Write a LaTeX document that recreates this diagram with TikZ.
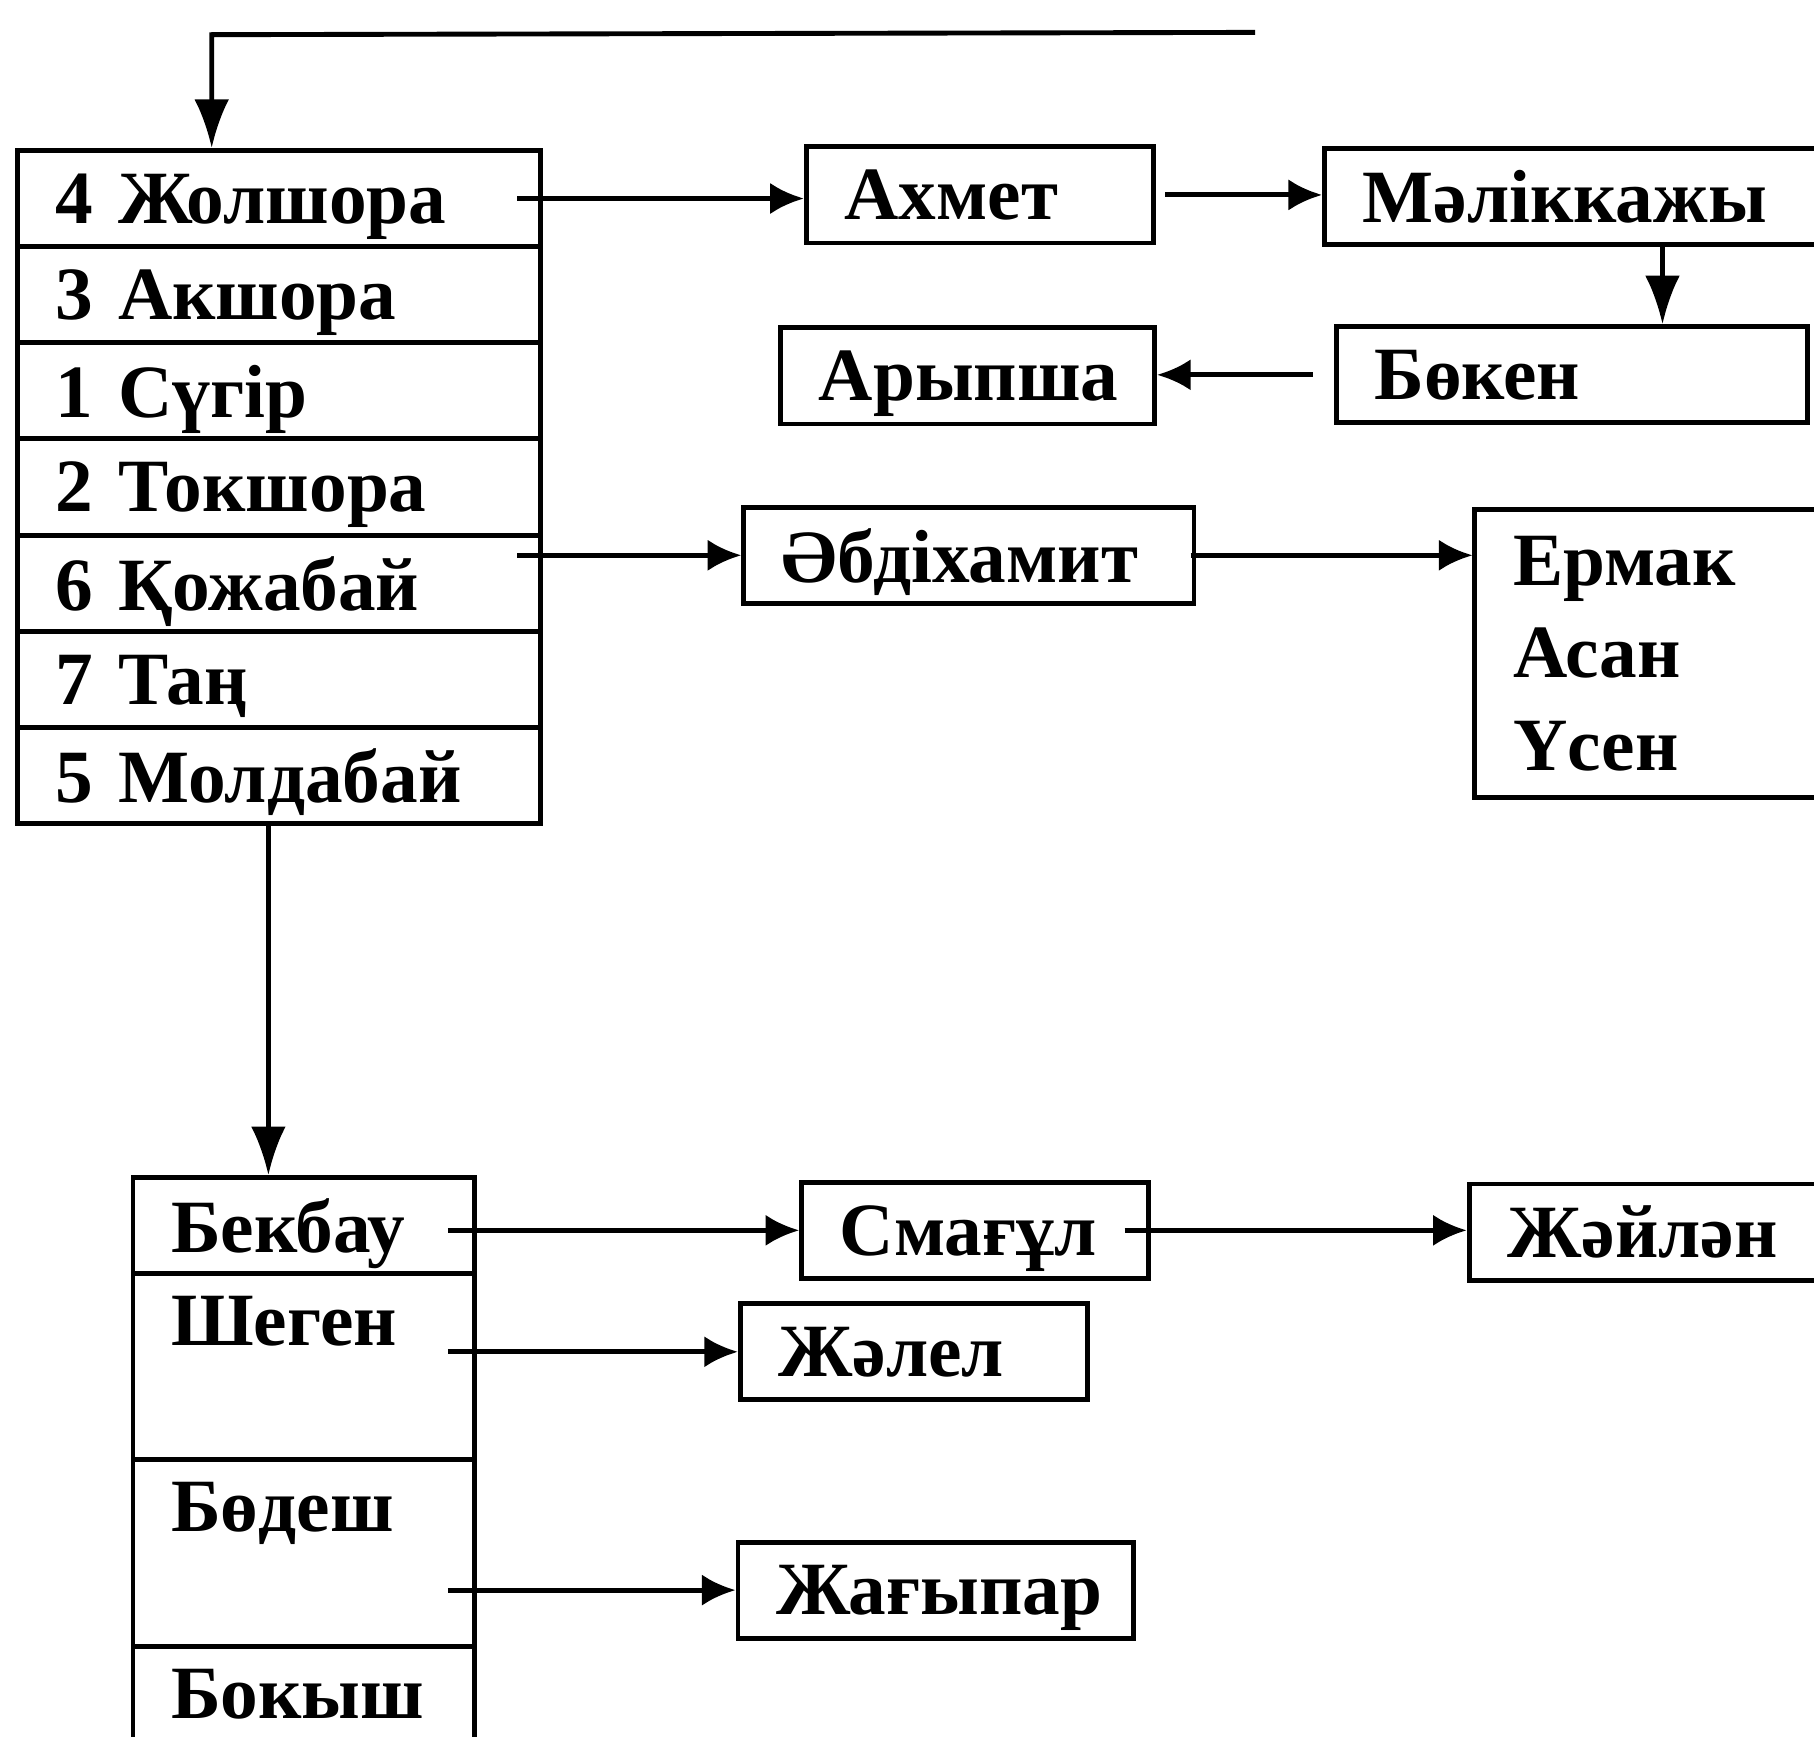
\documentclass[tikz,border=0pt]{standalone}
\usepackage{fontspec}
\setmainfont{Liberation Serif}
\usetikzlibrary{arrows.meta}

\begin{document}
\begin{tikzpicture}[x=0.01cm,y=-0.01cm,
    namebox/.style={draw,line width=1.2pt,inner xsep=0.33cm,inner ysep=0pt,
      minimum height=0.83cm,align=left,
      font=\fontsize{18.5}{22.8}\selectfont\bfseries},
    onebox/.style={namebox,text depth=0pt},
    link/.style={line width=1.2pt,-{Latex[length=0.29cm,width=0.27cm]}},
    droplink/.style={line width=1.2pt,-{Latex[length=0.42cm,width=0.3cm]}}]
  \useasboundingbox (0,0) rectangle (1568,1501);
  \clip (0,0) rectangle (1568,1501);

  % left column
  \node[onebox,text width=3.86cm] (r1) at (241,171.6) {4 Жолшора};
  \node[onebox,text width=3.86cm] (r2) at (241,254.7) {3 Акшора};
  \node[onebox,text width=3.86cm] (r3) at (241,337.9) {1 Сүгір};
  \node[onebox,text width=3.86cm] (r4) at (241,421.0) {2 Токшора};
  \node[onebox,text width=3.86cm] (r5) at (241,504.2) {6 Қожабай};
  \node[onebox,text width=3.86cm] (r6) at (241,587.3) {7 Таң};
  \node[onebox,text width=3.86cm] (r7) at (241,670.4) {5 Молдабай};

  % upper branches
  \node[onebox,text width=2.34cm] (ahmet) at (847,168.5) {Ахмет};
  \node[onebox,text width=3.79cm] (mal) at (1367.5,170) {Мәліккажы};
  \node[onebox,text width=3.41cm] (bok) at (1358.5,324) {Бөкен};
  \node[onebox,text width=2.57cm] (aryp) at (836.5,325) {Арыпша};
  \node[onebox,text width=3.23cm] (abd) at (837.5,480) {Әбдіхамит};
  \node[namebox,text width=2.59cm,minimum height=2.49cm] (erm) at (1437.5,565)
    {Ермак\\Асан\\Үсен};

  % lower column
  \node[onebox,text width=2.29cm] (b1) at (262.5,1059.5) {Бекбау};
  \node[namebox,text width=2.29cm,minimum height=1.61cm] (b2) at (262.5,1181.5)
    {Шеген\\\mbox{}};
  \node[namebox,text width=2.29cm,minimum height=1.61cm] (b3) at (262.5,1342.5)
    {Бөдеш\\\mbox{}};
  \node[onebox,text width=2.29cm] (b4) at (262.5,1464.5) {Бокыш};

  % lower branches
  \node[onebox,text width=2.34cm] (smag) at (843,1063.5) {Смағұл};
  \node[onebox,text width=2.64cm] (zhay) at (1435,1065) {Жәйлән};
  \node[onebox,text width=2.34cm] (zhal) at (790,1168.5) {Жәлел};
  \node[onebox,text width=2.76cm] (zhag) at (809,1374.5) {Жағыпар};

  % connectors
  \coordinate (topend) at (1085,28);
  \coordinate (topbend) at (183,30);
  \draw[droplink] (topend) -- (topbend) -- (topbend |- r1.north);
  \draw[link] ([xshift=-0.22cm]r1.east) -- (r1.east -| ahmet.west);
  \draw[link] ([xshift=0.08cm]ahmet.east) -- (ahmet.east -| mal.west);
  \draw[droplink] ([xshift=0.785cm]bok.north |- mal.south) -- ([xshift=0.785cm]bok.north);
  \draw[link] ([xshift=-0.18cm]bok.west) -- (bok.west -| aryp.east);
  \draw[link] ([xshift=-0.22cm]r5.east |- abd.west) -- (abd.west);
  \draw[link] ([xshift=-0.05cm]abd.east) -- (abd.east -| erm.west);
  \draw[droplink] ([xshift=-0.09cm]r7.south) -- ([xshift=-0.09cm]r7.south |- b1.north);
  \draw[link] ([xshift=-0.25cm]b1.east |- smag.west) -- (smag.west);
  \draw[link] ([xshift=-0.23cm]smag.east) -- (smag.east -| zhay.west);
  \draw[link] ([xshift=-0.25cm]b2.east |- zhal.west) -- (zhal.west);
  \draw[link] ([xshift=-0.25cm]b3.east |- zhag.west) -- (zhag.west);
\end{tikzpicture}
\end{document}
